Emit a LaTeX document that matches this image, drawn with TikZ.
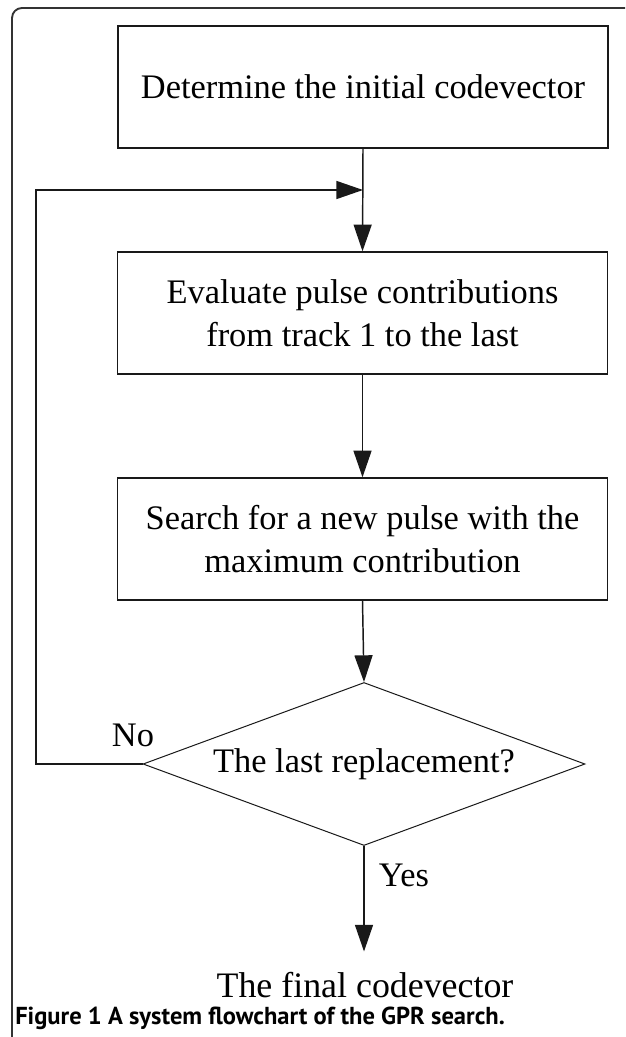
\documentclass[tikz,border=0pt]{standalone}
\usepackage{fontspec}
\setmainfont{Liberation Serif}
\newfontfamily\capfont{PT Sans}
\usetikzlibrary{shapes.geometric,arrows.meta}
\tikzset{
  txt/.style={font=\fontsize{25.8pt}{32.25pt}\selectfont},
  procbox/.style={txt, draw=black!90, line width=1.1pt, minimum width=367.5pt, minimum height=91.5pt, inner sep=0pt, align=center},
  decbox/.style={txt, diamond, draw=black!90, line width=0.75pt, minimum width=331.5pt, minimum height=122.25pt, aspect=2.71, inner sep=0pt},
  arr/.style={-{Triangle[length=20pt,width=13.5pt]}, line width=1.1pt, draw=black!90},
  frame/.style={draw=black!80, line width=1.4pt, rounded corners=7.5pt}
}
\begin{document}
\begin{tikzpicture}[x=0.75pt,y=-0.75pt]
\useasboundingbox (0,0) rectangle (625,1037);
\clip (0,0) rectangle (625,1037);
\fill[white] (0,0) rectangle (625,1037);
\draw[frame] (12,1100) -- (12,8) -- (720,8);

\node[procbox] (b1) at (363,87) {Determine the initial codevector};
\node[procbox] (b2) at (362.5,313) {Evaluate pulse contributions\\from track 1 to the last};
\node[procbox] (b3) at (362.5,539) {Search for a new pulse with the\\maximum contribution};
\node[decbox] (dec) at (364,764) {The last replacement?};
\node[font=\fontsize{26.9pt}{32pt}\selectfont, anchor=base, inner xsep=0pt, inner ysep=15pt] (fin) at (365,997) {The final codevector};

\node[txt, inner sep=0pt] (no) at (133,735) {No};
\node[txt, inner sep=0pt] (yes) at (404,875) {Yes};

\coordinate (lp) at (36,190);
\coordinate (J) at (b1.south |- lp);

\draw[arr] (b1.south) -- (b2.north);
\draw[arr] (b2.south) -- (b3.north);
\draw[arr] (b3.south) -- (dec.north);
\draw[arr] (dec.south) -- (dec.south |- fin.north);
\draw[arr] (dec.west) -| (lp) -- (J);

\node[anchor=base west, inner sep=0pt, font=\capfont\bfseries\fontsize{18.4pt}{21pt}\selectfont] (cap) at (15,1024) {Figure 1 A system flowchart of the GPR search.};
\end{tikzpicture}
\end{document}
